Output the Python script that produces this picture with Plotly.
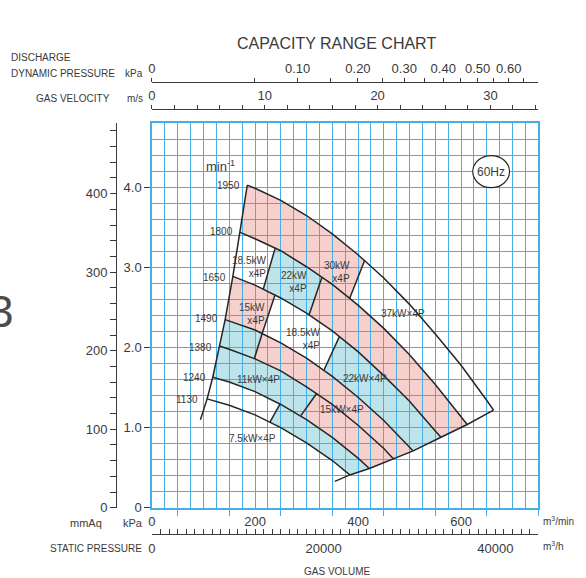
import math
import plotly.graph_objects as go

# ---------------- data ----------------
speeds = [1950, 1800, 1650, 1490, 1380, 1240, 1130]          # min^-1
curve_q = [                                                   # m3/min
    [185, 200, 250, 300, 350, 400, 450, 500, 550, 600, 650, 663],
    [171, 200, 250, 300, 350, 400, 450, 500, 550, 600, 612],
    [157, 200, 250, 300, 350, 400, 450, 500, 550, 561],
    [142, 200, 250, 300, 350, 400, 450, 500, 507],
    [131, 150, 200, 250, 300, 350, 400, 450, 469],
    [118, 150, 200, 250, 300, 350, 400, 422],
    [107, 150, 200, 250, 300, 350, 384],
]
curve_p = [                                                   # kPa
    [4.03, 3.99, 3.84, 3.65, 3.42, 3.16, 2.87, 2.54, 2.17, 1.78, 1.34, 1.22],
    [3.44, 3.36, 3.21, 3.01, 2.79, 2.53, 2.24, 1.91, 1.54, 1.14, 1.04],
    [2.89, 2.78, 2.62, 2.43, 2.21, 1.95, 1.65, 1.33, 0.96, 0.88],
    [2.35, 2.22, 2.06, 1.87, 1.64, 1.38, 1.09, 0.76, 0.71],
    [2.02, 1.98, 1.86, 1.71, 1.51, 1.29, 1.03, 0.74, 0.61],
    [1.63, 1.57, 1.45, 1.29, 1.10, 0.88, 0.62, 0.49],
    [1.36, 1.28, 1.16, 1.00, 0.81, 0.59, 0.41],
]
left_q = [94, 107, 118, 131, 142, 157, 171, 185]
left_p = [1.10, 1.36, 1.63, 2.02, 2.35, 2.89, 3.44, 4.03]
right_q = [355, 384, 422, 469, 507, 561, 612, 663]
right_p = [0.33, 0.41, 0.49, 0.61, 0.71, 0.88, 1.04, 1.22]

# motor-size boundaries inside each band between two speed curves
# (q on upper curve, p on upper curve, q on lower curve, p on lower curve)
band_dividers = [
    [(413, 3.09, 384, 2.62)],
    [(239, 3.24, 216, 2.73), (330, 2.88, 305, 2.41)],
    [(239, 2.66, 214, 2.18), (364, 2.14, 334, 1.72)],
    [(214, 2.18, 199, 1.87)],
    [(320, 1.43, 289, 1.15)],
    [(249, 1.30, 229, 1.07)],
]
band_motors = [
    ["30kW", "37kW"],
    ["18.5kW", "22kW", "30kW"],
    ["15kW", "18.5kW", "22kW"],
    ["11kW", "15kW"],
    ["11kW", "15kW"],
    ["7.5kW", "11kW"],
]
motor_text = ["18.5kW<br>x4P", "22kW<br>x4P", "30kW<br>x4P", "15kW<br>x4P",
              "18.5kW<br>x4P", "37kW×4P", "22kW×4P", "11kW×4P", "15kW×4P", "7.5kW×4P"]
motor_q = [189, 276, 359, 195, 293, 488, 414, 206, 368, 195]
motor_p = [3.01, 2.82, 2.94, 2.42, 2.11, 2.43, 1.62, 1.60, 1.23, 0.86]
speed_label_q = [175, 162, 148, 133, 121, 108, 94]
speed_label_p = [4.03, 3.45, 2.88, 2.36, 2.00, 1.63, 1.35]

flow_labels = [0, 200, 400, 600]
kpa_labels = [0, 1, 2, 3, 4]
mmaq_labels = [0, 100, 200, 300, 400]
velocity_labels = [0, 10, 20, 30]
dyn_pressure_ticks = [0, 0.05, 0.10, 0.15, 0.20, 0.25, 0.30, 0.35, 0.40, 0.45, 0.50, 0.55, 0.60, 0.65]
hourly_labels = [0, 20000, 40000]

# ---------------- styles ----------------
W, H = 586, 578
FIG_H = 588
PL, PR, PT, PB = 149, 538, 123, 506
Q_MAX, P_MAX = 750, 4.8
Q_PER_VELOCITY = 21.9            # m3/min per m/s of the duct
AIR_DENSITY = 1.2
KPA_PER_MMAQ = 0.00980665
BLUE = "#46ade6"
DARK = "#3a3a3a"
LINE = "#262626"
FILL = {"7.5kW": None, "11kW": "#bde4ea", "15kW": "#f6d0cc", "18.5kW": None,
        "22kW": "#bde4ea", "30kW": "#f6d0cc", "37kW": None}
FONT = "Liberation Sans, Arial, sans-serif"
NARROW = "Liberation Sans Narrow, Liberation Sans, Arial, sans-serif"


def fx(x):
    return x / W


def fy(y):
    return 1 - y / H


def segment(qs, ps, start, end):
    pts = []
    qa = start[0] if start else -1e9
    qb = end[0] if end else 1e9
    if start:
        pts.append(start)
    for q, p in zip(qs, ps):
        if qa < q < qb:
            pts.append((q, p))
    if end:
        pts.append(end)
    return pts


fig = go.Figure()
shapes = []

# filled motor regions (below the grid)
for b, (divs, motors) in enumerate(zip(band_dividers, band_motors)):
    bounds = [None] + divs + [None]
    for k, motor in enumerate(motors):
        color = FILL[motor]
        if color is None:
            continue
        d0, d1 = bounds[k], bounds[k + 1]
        up = segment(curve_q[b], curve_p[b],
                     (d0[0], d0[1]) if d0 else None, (d1[0], d1[1]) if d1 else None)
        lo = segment(curve_q[b + 1], curve_p[b + 1],
                     (d0[2], d0[3]) if d0 else None, (d1[2], d1[3]) if d1 else None)
        poly = up + lo[::-1]
        path = "M " + " L ".join(f"{q},{p}" for q, p in poly) + " Z"
        shapes.append(dict(type="path", path=path, xref="x", yref="y",
                           fillcolor=color, line=dict(width=0), layer="below"))

line_style = dict(color=LINE, width=1.5)
for qs, ps in zip(curve_q, curve_p):
    fig.add_trace(go.Scatter(x=qs, y=ps, mode="lines", line=line_style,
                             hoverinfo="skip", showlegend=False))
fig.add_trace(go.Scatter(x=left_q, y=left_p, mode="lines", line=line_style,
                         hoverinfo="skip", showlegend=False))
fig.add_trace(go.Scatter(x=right_q, y=right_p, mode="lines", line=line_style,
                         hoverinfo="skip", showlegend=False))
dx, dy = [], []
for divs in band_dividers:
    for qt, pt, qb, pb in divs:
        dx += [qt, qb, None]
        dy += [pt, pb, None]
fig.add_trace(go.Scatter(x=dx, y=dy, mode="lines", line=line_style,
                         hoverinfo="skip", showlegend=False))

# invisible anchors so that the secondary scales are drawn
for xa, ya in [("x2", "y"), ("x3", "y"), ("x4", "y"), ("x", "y2")]:
    fig.add_trace(go.Scatter(x=[1], y=[1], xaxis=xa, yaxis=ya, mode="markers",
                             marker=dict(opacity=0), hoverinfo="skip", showlegend=False))

annotations = []
for t, q, p in zip(motor_text, motor_q, motor_p):
    annotations.append(dict(x=q, y=p, xref="x", yref="y", text=t, showarrow=False,
                            align="right", font=dict(size=10, color=DARK, family=FONT)))
for s, q, p in zip(speeds, speed_label_q, speed_label_p):
    annotations.append(dict(x=q, y=p, xref="x", yref="y", text=str(s), showarrow=False,
                            xanchor="right", font=dict(size=10, color=DARK, family=NARROW)))

def note(text, x, y, size=10, anchor="center", **kw):
    annotations.append(dict(x=fx(x), y=fy(y), xref="paper", yref="paper", text=text,
                            showarrow=False, xanchor=anchor, yanchor="middle",
                            font=dict(size=size, color=DARK, family=FONT), **kw))

note("CAPACITY RANGE CHART", 335, 43, size=16)
note("DISCHARGE", 5, 57, anchor="left")
note("DYNAMIC PRESSURE", 5, 73, anchor="left")
note("kPa", 142, 73, anchor="right")
note("GAS VELOCITY", 109, 98, anchor="right")
note("m/s", 142, 98, anchor="right")
note("mmAq", 101, 521, size=11, anchor="right")
note("kPa", 142, 521, size=11, anchor="right")
note("STATIC PRESSURE", 141, 547, anchor="right")
note("GAS VOLUME", 335, 570)
note("m<sup>3</sup>/min", 541, 519, anchor="left")
note("m<sup>3</sup>/h", 541, 544, anchor="left")
note("min<sup>-1</sup>", 218, 165, size=13)
note("60Hz", 490, 171, size=12)
annotations.append(dict(x=fx(-3), y=fy(310), xref="paper", yref="paper", text="3",
                        showarrow=False, xanchor="center", yanchor="middle",
                        font=dict(size=44, color="#4a4a4a", family=FONT)))

shapes.append(dict(type="circle", xref="paper", yref="paper",
                   x0=fx(472), x1=fx(509), y0=fy(187), y1=fy(155),
                   line=dict(color=LINE, width=1.2), fillcolor="white", layer="above"))

v_max = Q_MAX / Q_PER_VELOCITY
vel_ticks = list(range(0, 35, 2))
dyn_pos = [math.sqrt(2000 * p / AIR_DENSITY) for p in dyn_pressure_ticks]
dyn_text = [("0" if p == 0 else f"{p:.2f}") if abs(round(p * 10) - p * 10) < 1e-9 else ""
            for p in dyn_pressure_ticks]
hour_ticks = list(range(0, 45001, 1000))
flow_grid = list(range(0, Q_MAX + 1, 25))
mm_ticks = list(range(0, 481, 20))

axis_font = dict(size=13, color=DARK, family=FONT)

fig.update_layout(
    width=W, height=FIG_H, autosize=False,
    margin=dict(l=0, r=0, t=0, b=0),
    paper_bgcolor="white", plot_bgcolor="white",
    font=dict(family=FONT, color=DARK),
    showlegend=False,
    shapes=shapes, annotations=annotations,
    xaxis=dict(domain=[fx(PL), fx(PR)], range=[0, Q_MAX], anchor="y",
               tickmode="array", tickvals=flow_grid,
               ticktext=[str(v) if v in flow_labels else "" for v in flow_grid],
               ticks="", showgrid=True, gridcolor=BLUE, gridwidth=1.3,
               minor=dict(tickmode="array", tickvals=list(range(50, Q_MAX + 1, 100)),
                          ticks="outside", ticklen=6, tickcolor=BLUE, tickwidth=1.3,
                          showgrid=False),
               showline=True, linecolor=BLUE, linewidth=1.5, mirror=True,
               zeroline=False, tickfont=axis_font, ticklabelstandoff=1, fixedrange=True),
    yaxis=dict(domain=[fy(PB), fy(PT)], range=[0, P_MAX], anchor="x",
               tickmode="array", tickvals=kpa_labels,
               ticktext=["0" if v == 0 else f"{v:.1f}" for v in kpa_labels],
               ticks="outside", ticklen=6, tickcolor=DARK, tickwidth=1.2,
               showgrid=True, gridcolor=BLUE, gridwidth=1.3,
               minor=dict(tickmode="linear", tick0=0, dtick=0.2, showgrid=True,
                          gridcolor=BLUE, gridwidth=1.3, ticks=""),
               showline=True, linecolor=BLUE, linewidth=1.5, mirror=True,
               zeroline=False, tickfont=axis_font, fixedrange=True),
    yaxis2=dict(overlaying="y", anchor="free", position=fx(113), side="left",
                range=[0, P_MAX / KPA_PER_MMAQ], tickmode="array", tickvals=mm_ticks,
                ticktext=[str(v) if v in mmaq_labels else "" for v in mm_ticks],
                ticks="outside", ticklen=6, tickcolor=DARK, tickwidth=1.2,
                showline=True, linecolor=DARK, linewidth=1.2,
                showgrid=False, zeroline=False, tickfont=axis_font, fixedrange=True),
    xaxis2=dict(overlaying="x", anchor="free", position=fy(109), side="top",
                range=[0, v_max], tickmode="array", tickvals=vel_ticks,
                ticktext=[str(v) if v in velocity_labels else "" for v in vel_ticks],
                ticks="outside", ticklen=4, tickcolor=DARK, tickwidth=1.2,
                showline=True, linecolor=DARK, linewidth=1.2,
                showgrid=False, zeroline=False, tickfont=axis_font, fixedrange=True),
    xaxis3=dict(overlaying="x", anchor="free", position=fy(82), side="top",
                range=[0, v_max], tickmode="array", tickvals=dyn_pos, ticktext=dyn_text,
                ticks="outside", ticklen=4, tickcolor=DARK, tickwidth=1.2,
                showline=True, linecolor=DARK, linewidth=1.2,
                showgrid=False, zeroline=False, tickfont=axis_font, fixedrange=True),
    xaxis4=dict(overlaying="x", anchor="free", position=fy(532), side="bottom",
                range=[0, Q_MAX * 60], tickmode="array", tickvals=hour_ticks,
                ticktext=[str(v) if v in hourly_labels else "" for v in hour_ticks],
                ticks="inside", ticklen=5, tickcolor=DARK, tickwidth=1.2,
                showline=True, linecolor=DARK, linewidth=1.2, ticklabelstandoff=2,
                showgrid=False, zeroline=False, tickfont=axis_font, fixedrange=True),
)

fig.write_html(
    "out.html",
    config={"displayModeBar": False},
    post_script="document.body.style.margin='0';document.body.style.overflow='hidden';",
)
